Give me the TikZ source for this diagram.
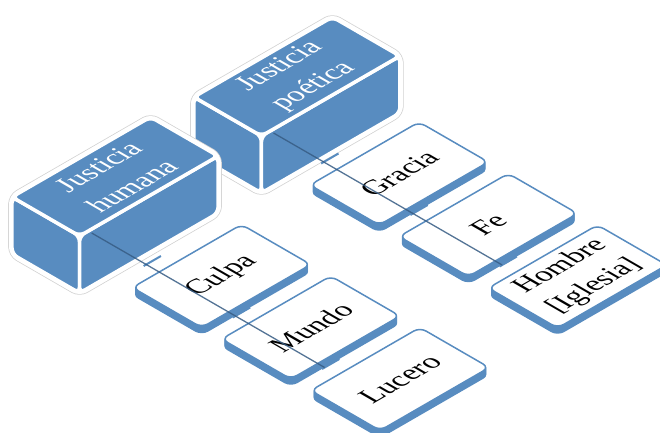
\documentclass[tikz,border=0pt]{standalone}
\usepackage{amsmath}
\usepackage{tikz}
\usepackage{color}
\usepackage{fontspec}
\setmainfont{Liberation Serif}

\definecolor{boxblue}{RGB}{88,140,192}
\definecolor{linkblue}{RGB}{55,92,132}

\tikzset{
  halo/.style={draw=white, line width=6pt, rounded corners=7pt, preaction={draw=black!18, line width=7.5pt}},
  face/.style={fill=boxblue, draw=white, line width=3.5pt, rounded corners=6pt, line join=round},
  cardtop/.style={fill=white, draw=boxblue, line width=1.5pt, rounded corners=7pt},
  cardslab/.style={fill=boxblue, draw=boxblue, line width=1.5pt, rounded corners=7pt},
  isotext/.style={cm={0.866,0.5,-0.866,0.5,(0,0)}, inner sep=0pt, align=center, font=\fontsize{29}{39}\selectfont},
  link/.style={draw=linkblue, line width=1.3pt, opacity=.85},
  stub/.style={draw=boxblue, line width=2pt}
}

\begin{document}
\begin{tikzpicture}[x={(0.866pt,0.5pt)}, y={(0.866pt,-0.5pt)}, z={(0pt,1pt)}]

\useasboundingbox (-12pt,-235pt) rectangle (648pt,197pt);

\begin{scope}[shift={(205,5)}]
 \draw[halo] (0,0,0)--(160,0,0)--(160,78,0)--(160,78,-57)--(0,78,-57)--(0,0,-57)--cycle;
 \draw[face] (0,0,0)--(0,78,0)--(0,78,-57)--(0,0,-57)--cycle;
 \draw[face] (0,78,0)--(160,78,0)--(160,78,-57)--(0,78,-57)--cycle;
 \draw[face] (0,0,0)--(160,0,0)--(160,78,0)--(0,78,0)--cycle;
 \node[isotext, text=white] (poetica) at (80,39,0) {Justicia\\poética};
 \coordinate (poetica-foot) at (10,82,0);
\end{scope}

\begin{scope}
 \draw[halo] (0,0,0)--(160,0,0)--(160,78,0)--(160,78,-57)--(0,78,-57)--(0,0,-57)--cycle;
 \draw[face] (0,0,0)--(0,78,0)--(0,78,-57)--(0,0,-57)--cycle;
 \draw[face] (0,78,0)--(160,78,0)--(160,78,-57)--(0,78,-57)--cycle;
 \draw[face] (0,0,0)--(160,0,0)--(160,78,0)--(0,78,0)--cycle;
 \node[isotext, text=white] (humana) at (80,39,0) {Justicia\\humana};
 \coordinate (humana-foot) at (10,82,0);
\end{scope}

\begin{scope}[shift={(-21,160)}]
 \foreach \h in {1,...,7}
  \draw[cardslab] (0,0,-\h)--(126,0,-\h)--(126,80,-\h)--(0,80,-\h)--cycle;
 \draw[cardtop] (0,0,0)--(126,0,0)--(126,80,0)--(0,80,0)--cycle;
 \node[isotext] (culpa) at (63,40,0) {Culpa};
 \coordinate (culpa-stub) at (31,-15,0);
\end{scope}

\begin{scope}[shift={(-21,263)}]
 \foreach \h in {1,...,7}
  \draw[cardslab] (0,0,-\h)--(126,0,-\h)--(126,80,-\h)--(0,80,-\h)--cycle;
 \draw[cardtop] (0,0,0)--(126,0,0)--(126,80,0)--(0,80,0)--cycle;
 \node[isotext] (mundo) at (63,40,0) {Mundo};
 \coordinate (mundo-stub) at (31,-15,0);
\end{scope}

\begin{scope}[shift={(-21,366)}]
 \foreach \h in {1,...,7}
  \draw[cardslab] (0,0,-\h)--(126,0,-\h)--(126,80,-\h)--(0,80,-\h)--cycle;
 \draw[cardtop] (0,0,0)--(126,0,0)--(126,80,0)--(0,80,0)--cycle;
 \node[isotext] (lucero) at (63,40,0) {Lucero};
 \coordinate (lucero-stub) at (31,-15,0);
\end{scope}

\begin{scope}[shift={(184,160)}]
 \foreach \h in {1,...,7}
  \draw[cardslab] (0,0,-\h)--(126,0,-\h)--(126,80,-\h)--(0,80,-\h)--cycle;
 \draw[cardtop] (0,0,0)--(126,0,0)--(126,80,0)--(0,80,0)--cycle;
 \node[isotext] (gracia) at (63,40,0) {Gracia};
 \coordinate (gracia-stub) at (31,-15,0);
\end{scope}

\begin{scope}[shift={(184,263)}]
 \foreach \h in {1,...,7}
  \draw[cardslab] (0,0,-\h)--(126,0,-\h)--(126,80,-\h)--(0,80,-\h)--cycle;
 \draw[cardtop] (0,0,0)--(126,0,0)--(126,80,0)--(0,80,0)--cycle;
 \node[isotext] (fe) at (63,40,0) {Fe};
 \coordinate (fe-stub) at (31,-15,0);
\end{scope}

\begin{scope}[shift={(184,366)}]
 \foreach \h in {1,...,7}
  \draw[cardslab] (0,0,-\h)--(126,0,-\h)--(126,80,-\h)--(0,80,-\h)--cycle;
 \draw[cardtop] (0,0,0)--(126,0,0)--(126,80,0)--(0,80,0)--cycle;
 \node[isotext] (hombre) at (63,40,0) {Hombre\\{[Iglesia]}};
 \coordinate (hombre-stub) at (31,-15,0);
\end{scope}

\draw[stub] (culpa-stub) ++(-3,0) -- ++(20,0);
\draw[stub] (mundo-stub) ++(-3,0) -- ++(20,0);
\draw[stub] (lucero-stub) ++(-3,0) -- ++(20,0);
\draw[stub] (gracia-stub) ++(-3,0) -- ++(20,0);
\draw[stub] (fe-stub) ++(-3,0) -- ++(20,0);
\draw[stub] (hombre-stub) ++(-3,0) -- ++(20,0);

\draw[link] (humana-foot) -- (lucero-stub);

\draw[link] (poetica-foot) -- (hombre-stub);

\end{tikzpicture}
\end{document}
